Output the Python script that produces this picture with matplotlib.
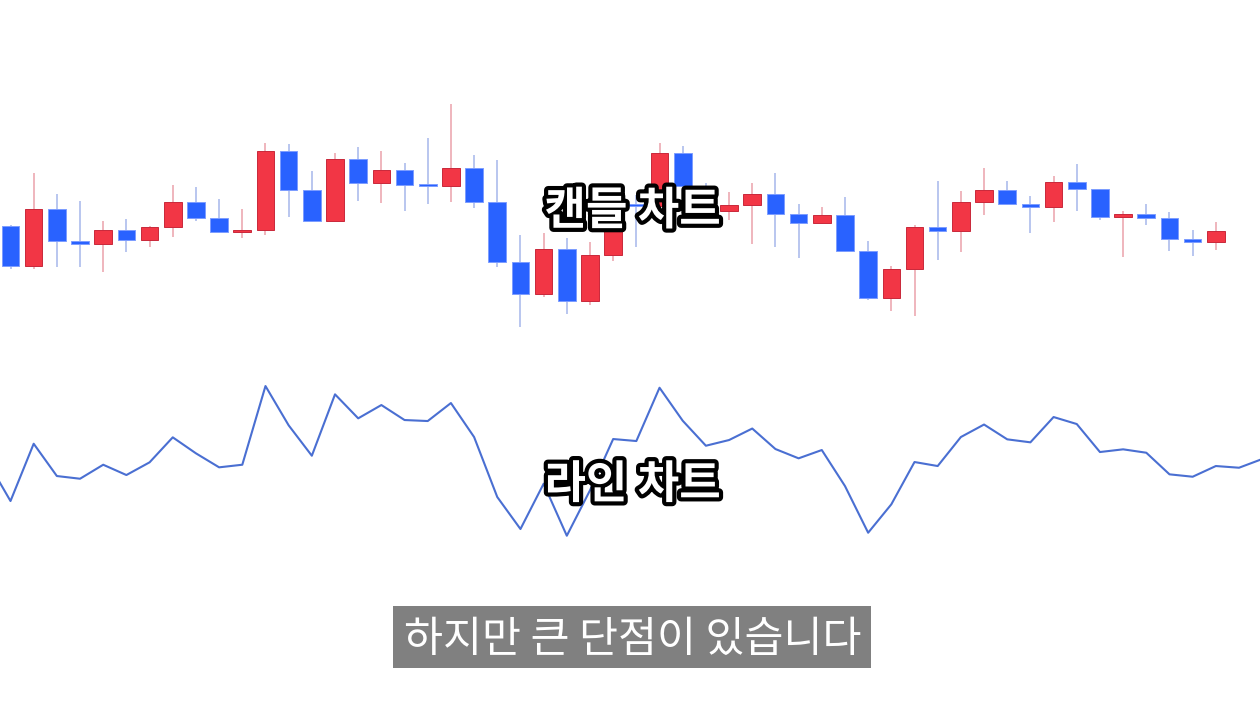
import numpy as np
import matplotlib
matplotlib.use('Agg')
import matplotlib.pyplot as plt
import matplotlib.patheffects as pe
from matplotlib.patches import Rectangle

plt.rcParams['font.family'] = ['Noto Sans CJK KR', 'DejaVu Sans']

# closing prices, one per period (period 0, 54 and 55 only show up in the line)
close = [124.0, 84.0, 141.3, 109.0, 106.3, 120.3, 110.0, 122.7, 147.7, 131.7,
         117.7, 120.3, 199.0, 159.7, 129.3, 190.7, 166.7, 180.0, 165.0, 164.0,
         182.0, 148.0, 88.0, 56.0, 101.3, 49.3, 94.7, 146.0, 144.0, 197.3,
         164.3, 139.3, 145.0, 156.5, 136.0, 126.7, 135.0, 99.0, 52.3, 80.7,
         123.0, 119.0, 148.0, 160.5, 145.7, 142.7, 168.0, 161.0, 133.0, 135.7,
         132.3, 110.7, 108.3, 119.0, 117.3, 126.0]

# highs / lows of the drawn candles (periods 1..53)
high = [125.0, 177.3, 156.0, 149.3, 129.0, 131.3, 124.0, 164.7, 163.3, 151.0,
        141.3, 206.7, 206.0, 178.7, 196.7, 202.7, 199.3, 187.3, 211.7, 246.0,
        195.0, 190.0, 115.0, 117.0, 112.0, 108.3, 152.0, 155.0, 206.7, 204.0,
        167.0, 158.0, 166.7, 176.7, 145.7, 143.3, 152.7, 109.3, 84.0, 125.0,
        169.0, 159.0, 182.3, 169.0, 154.3, 174.0, 185.7, 161.5, 139.3, 146.0,
        138.3, 119.7, 128.0]
low = [81.0, 81.0, 83.3, 83.3, 78.3, 98.0, 103.3, 113.3, 129.3, 116.7,
       112.3, 115.0, 133.3, 128.0, 129.0, 149.3, 147.3, 139.3, 145.7, 147.7,
       142.0, 82.7, 22.7, 52.7, 36.0, 45.0, 89.3, 103.3, 140.0, 160.0,
       135.0, 130.0, 105.7, 103.3, 92.3, 126.5, 98.5, 50.0, 39.0, 34.0,
       90.0, 97.7, 134.7, 145.5, 116.7, 128.0, 139.3, 130.0, 92.7, 124.7,
       99.3, 94.3, 100.0]

candle_title = '캔들 차트'
line_title = '라인 차트'
caption = '하지만 큰 단점이 있습니다'

UP = '#f23645'
DOWN = '#2962ff'

n = len(high)
idx = np.arange(1, n + 1)
o = np.array(close[:n])
c = np.array(close[1:n + 1])
up = c >= o

fig = plt.figure(figsize=(12.6, 7.04), dpi=100)
fig.patch.set_facecolor('white')

# candle chart on top
ax_c = fig.add_axes([0, 0.4886, 1, 0.4261])
wick_cols = np.where(up, '#eeb0b7', '#b3c1ee')
ax_c.vlines(idx, low, high, colors=wick_cols, lw=1.3, zorder=1)
body_low = np.minimum(o, c)
body_h = np.maximum(np.abs(c - o), 1.6)
ax_c.bar(idx[up], body_h[up], bottom=body_low[up], width=0.76,
         color=UP, edgecolor='#c9283a', lw=0.7, zorder=2)
ax_c.bar(idx[~up], body_h[~up], bottom=body_low[~up], width=0.76,
         color=DOWN, edgecolor='#7d9dff', lw=0.7, zorder=2)

# line chart of the closes below
ax_l = fig.add_axes([0, 0.1548, 1, 0.4261])
ax_l.plot(np.arange(len(close)), close, color='#4a6fd2', lw=1.5)

for ax in (ax_c, ax_l):
    ax.set_xlim(0.547, 54.905)
    ax.set_ylim(-10, 290)
    ax.axis('off')
    ax.patch.set_alpha(0)

outline = [pe.withStroke(linewidth=6, foreground='black')]
fig.text(0.502, 0.6996, candle_title, ha='center', va='center', fontsize=32.5,
         fontweight='bold', color='white', path_effects=outline)
fig.text(0.502, 0.311, line_title, ha='center', va='center', fontsize=32.5,
         fontweight='bold', color='white', path_effects=outline)

fig.patches.append(Rectangle((0.3119, 0.0511), 0.3794, 0.0881,
                             transform=fig.transFigure, facecolor='#808080',
                             edgecolor='none'))
fig.text(0.502, 0.0915, caption, ha='center', va='center', fontsize=30.5,
         color='white')

fig.savefig('out.png', dpi=100)
